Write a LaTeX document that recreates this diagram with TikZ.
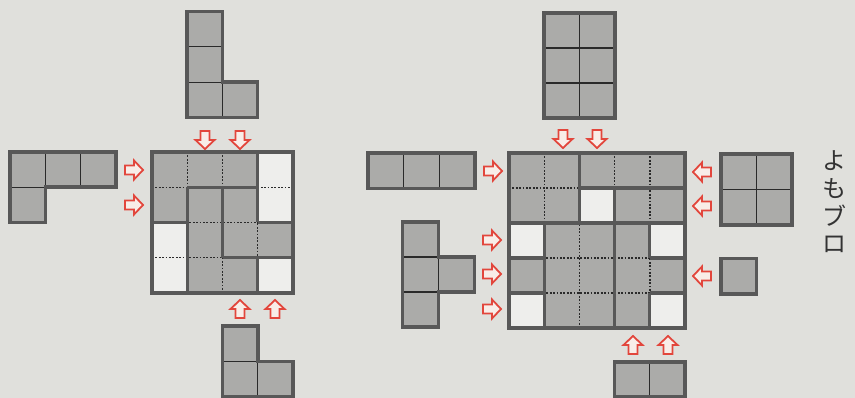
\documentclass[tikz,border=0pt]{standalone}
\usepackage{fontspec}
\newfontfamily\jpfont{Noto Sans CJK JP}
\definecolor{bgcol}{HTML}{E0E0DC}
\definecolor{graycell}{HTML}{ABABA9}
\definecolor{whitecell}{HTML}{EEEEEC}
\definecolor{edgecol}{HTML}{585858}
\definecolor{innercol}{HTML}{2A2A2A}
\definecolor{arrred}{HTML}{E2463C}
\definecolor{arrfill}{HTML}{F8EDE8}
\tikzset{
  gcell/.style={fill=graycell},
  wcell/.style={fill=whitecell},
  dashline/.style={draw=innercol, line width=1.4pt, dash pattern=on 1.8pt off 1.6pt},
  thickline/.style={draw=edgecol, line width=3.2pt, line cap=square},
  borderline/.style={draw=edgecol, line width=3.6pt, line join=miter},
  innerline/.style={draw=innercol, line width=1.1pt},
  arrowstyle/.style={draw=arrred, fill=arrfill, line width=1.8pt, line join=miter},
  pics/arrdown/.style={code={\path[arrowstyle] (-4.5,-9)--(4.5,-9)--(4.5,0)--(9.5,0)--(0,9)--(-9.5,0)--(-4.5,0)--cycle;}},
  pics/arrup/.style={code={\path[arrowstyle] (-4.5,9)--(4.5,9)--(4.5,0)--(9.5,0)--(0,-9)--(-9.5,0)--(-4.5,0)--cycle;}},
  pics/arrright/.style={code={\path[arrowstyle] (-9,-4.5)--(0,-4.5)--(0,-9.5)--(9,0)--(0,9.5)--(0,4.5)--(-9,4.5)--cycle;}},
  pics/arrleft/.style={code={\path[arrowstyle] (9,-4.5)--(0,-4.5)--(0,-9.5)--(-9,0)--(0,9.5)--(0,4.5)--(9,4.5)--cycle;}},
}
\begin{document}
\begin{tikzpicture}[x=1pt,y=-1pt]
\useasboundingbox (0,0) rectangle (855,398);
\fill[bgcol] (0,0) rectangle (855,398);

% ---------- left grid ----------
\begin{scope}[shift={(152,152)}, x=35.25pt, y=-35.25pt]
  \fill[gcell] (0,0) rectangle (4,4);
  \foreach \c/\r in {3/0,3/1,0/2,0/3,3/3} {\fill[wcell] (\c,\r) rectangle ++(1,1);}
  \foreach \k in {1,2,3} {\draw[dashline] (\k,0)--(\k,4); \draw[dashline] (0,\k)--(4,\k);}
  \draw[thickline] (3,0)--(3,2);
  \draw[thickline] (1,1)--(1,4);
  \draw[thickline] (2,1)--(2,3);
  \draw[thickline] (3,3)--(3,4);
  \draw[thickline] (1,1)--(3,1);
  \draw[thickline] (0,2)--(1,2);
  \draw[thickline] (3,2)--(4,2);
  \draw[thickline] (2,3)--(4,3);
  \draw[borderline] (0,0) rectangle (4,4);
\end{scope}

% top L piece (left)
\begin{scope}[shift={(187,11.5)}, x=35.3pt, y=-35.3pt]
  \fill[gcell] (0,0)--(1,0)--(1,2)--(2,2)--(2,3)--(0,3)--cycle;
  \draw[innerline] (0,1)--(1,1) (0,2)--(1,2) (1,2)--(1,3);
  \draw[borderline] (0,0)--(1,0)--(1,2)--(2,2)--(2,3)--(0,3)--cycle;
\end{scope}

% left L piece
\begin{scope}[shift={(10,152)}, x=35.4pt, y=-35.3pt]
  \fill[gcell] (0,0)--(3,0)--(3,1)--(1,1)--(1,2)--(0,2)--cycle;
  \draw[innerline] (1,0)--(1,1) (2,0)--(2,1) (0,1)--(1,1);
  \draw[borderline] (0,0)--(3,0)--(3,1)--(1,1)--(1,2)--(0,2)--cycle;
\end{scope}

% bottom L piece (left)
\begin{scope}[shift={(222.5,326)}, x=35.3pt, y=-35.5pt]
  \fill[gcell] (0,0)--(1,0)--(1,1)--(2,1)--(2,2)--(0,2)--cycle;
  \draw[innerline] (0,1)--(1,1) (1,1)--(1,2);
  \draw[borderline] (0,0)--(1,0)--(1,1)--(2,1)--(2,2)--(0,2)--cycle;
\end{scope}

% arrows left grid
\pic at (205,140) {arrdown};
\pic at (240,140) {arrdown};
\pic at (134,170) {arrright};
\pic at (134,205) {arrright};
\pic at (240,309) {arrup};
\pic at (275,309) {arrup};

% ---------- right grid ----------
\begin{scope}[shift={(509,153)}, x=35.2pt, y=-35pt]
  \fill[gcell] (0,0) rectangle (5,5);
  \foreach \c/\r in {2/1,0/2,4/2,0/4,4/4} {\fill[wcell] (\c,\r) rectangle ++(1,1);}
  \foreach \k in {1,2,3,4} {\draw[dashline] (\k,0)--(\k,5); \draw[dashline] (0,\k)--(5,\k);}
  \draw[thickline] (2,0)--(2,2);
  \draw[thickline] (3,1)--(3,5);
  \draw[thickline] (1,2)--(1,5);
  \draw[thickline] (4,2)--(4,3);
  \draw[thickline] (4,4)--(4,5);
  \draw[thickline] (2,1)--(5,1);
  \draw[thickline] (0,2)--(5,2);
  \draw[thickline] (0,3)--(1,3);
  \draw[thickline] (4,3)--(5,3);
  \draw[thickline] (0,4)--(1,4);
  \draw[thickline] (4,4)--(5,4);
  \draw[borderline] (0,0) rectangle (5,5);
\end{scope}

% 2x3 block (top right)
\begin{scope}[shift={(544,13)}, x=35.5pt, y=-35pt]
  \fill[gcell] (0,0) rectangle (2,3);
  \draw[innerline] (1,0)--(1,3) (0,1)--(2,1) (0,2)--(2,2);
  \draw[borderline] (0,0) rectangle (2,3);
\end{scope}

% 3-horizontal
\begin{scope}[shift={(368,153)}, x=35.7pt, y=-35.5pt]
  \fill[gcell] (0,0) rectangle (3,1);
  \draw[innerline] (1,0)--(1,1) (2,0)--(2,1);
  \draw[borderline] (0,0) rectangle (3,1);
\end{scope}

% T piece
\begin{scope}[shift={(402.5,222)}, x=36pt, y=-35pt]
  \fill[gcell] (0,0)--(1,0)--(1,1)--(2,1)--(2,2)--(1,2)--(1,3)--(0,3)--cycle;
  \draw[innerline] (0,1)--(1,1) (0,2)--(1,2) (1,1)--(1,2);
  \draw[borderline] (0,0)--(1,0)--(1,1)--(2,1)--(2,2)--(1,2)--(1,3)--(0,3)--cycle;
\end{scope}

% 2x2 block
\begin{scope}[shift={(721,154)}, x=35.5pt, y=-35.5pt]
  \fill[gcell] (0,0) rectangle (2,2);
  \draw[innerline] (1,0)--(1,2) (0,1)--(2,1);
  \draw[borderline] (0,0) rectangle (2,2);
\end{scope}

% single square
\begin{scope}[shift={(721,258.5)}, x=35.5pt, y=-35.5pt]
  \fill[gcell] (0,0) rectangle (1,1);
  \draw[borderline] (0,0) rectangle (1,1);
\end{scope}

% bottom 2-horizontal
\begin{scope}[shift={(614.5,362)}, x=35.2pt, y=-35pt]
  \fill[gcell] (0,0) rectangle (2,1);
  \draw[innerline] (1,0)--(1,1);
  \draw[borderline] (0,0) rectangle (2,1);
\end{scope}

% arrows right grid
\pic at (563,139) {arrdown};
\pic at (597,139) {arrdown};
\pic at (493,171) {arrright};
\pic at (492,240) {arrright};
\pic at (492,274) {arrright};
\pic at (492,309) {arrright};
\pic at (702,172) {arrleft};
\pic at (702,206) {arrleft};
\pic at (702,276) {arrleft};
\pic at (633,345) {arrup};
\pic at (668,345) {arrup};

% vertical text
\node[font=\jpfont\fontsize{24}{27.7}\selectfont, align=center, inner sep=0pt, text=black!80] (txt) at (834,202) {よ\\も\\ブ\\ロ};
\end{tikzpicture}
\end{document}
